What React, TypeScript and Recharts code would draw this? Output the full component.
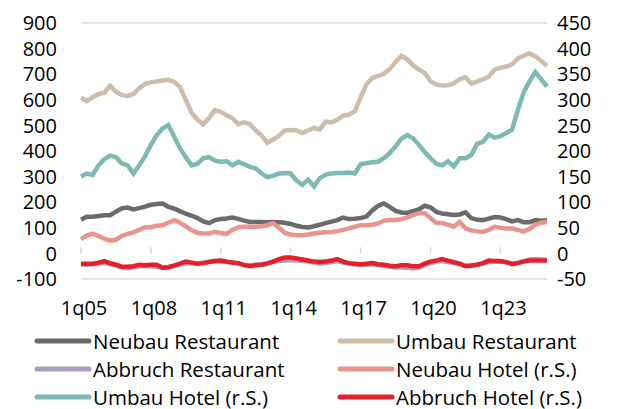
import React from 'react';
import { LineChart, Line, XAxis, YAxis, CartesianGrid, ReferenceLine } from 'recharts';

// quarters 1q05 .. 1q25
const quarters: string[] = [];
for (let y = 5; y <= 25; y++) {
  for (let q = 1; q <= 4; q++) {
    if (y === 25 && q > 1) break;
    quarters.push(`${q}q${String(y).padStart(2, '0')}`);
  }
}

const xTickIdx = [0, 12, 24, 36, 48, 60, 72];
const leftTicks = [-100, 0, 100, 200, 300, 400, 500, 600, 700, 800, 900];
const rightTicks = [-50, 0, 50, 100, 150, 200, 250, 300, 350, 400, 450];

// left axis
const neubauRestaurant = [
  132, 143, 143, 146, 149, 149, 163, 176, 179, 172,
  177, 183, 190, 193, 195, 182, 175, 165, 155, 147,
  138, 125, 118, 130, 134, 136, 140, 135, 128, 123,
  123, 123, 122, 123, 122, 120, 115, 108, 103, 101,
  106, 112, 118, 124, 130, 140, 134, 135, 138, 144,
  168, 186, 195, 182, 166, 160, 158, 165, 172, 186,
  180, 162, 156, 153, 150, 152, 160, 138, 131, 130,
  136, 142, 140, 134, 125, 130, 122, 122, 130, 128,
  130,
];
const umbauRestaurant = [
  608, 595, 610, 622, 628, 655, 632, 618, 615, 622,
  645, 662, 668, 672, 675, 678, 670, 650, 598, 550,
  522, 505, 530, 560, 553, 540, 528, 505, 512, 505,
  480, 460, 432, 445, 460, 480, 482, 480, 470, 480,
  490, 484, 515, 512, 522, 538, 542, 555, 610, 660,
  685, 693, 702, 720, 748, 772, 758, 735, 718, 705,
  672, 660, 656, 657, 664, 680, 688, 663, 672, 680,
  690, 718, 725, 730, 738, 762, 772, 782, 770, 752,
  732,
];
const abbruchRestaurant = [
  -42, -44, -42, -40, -38, -42, -48, -55, -58, -55,
  -50, -48, -50, -52, -56, -54, -48, -42, -38, -38,
  -40, -36, -32, -30, -32, -34, -36, -40, -44, -46,
  -44, -42, -38, -32, -30, -28, -26, -28, -30, -32,
  -36, -40, -38, -34, -30, -36, -40, -42, -45, -44,
  -42, -45, -48, -52, -55, -55, -56, -58, -56, -46,
  -38, -32, -30, -34, -38, -42, -48, -46, -44, -40,
  -34, -33, -32, -35, -40, -36, -30, -24, -22, -24,
  -26,
];
// right axis (r.S.)
const neubauHotel = [
  28, 35, 38.5, 34, 29, 25, 26.5, 34, 38, 41,
  46, 51, 51, 54, 55, 60, 65, 60, 53, 45,
  40, 39, 39, 42, 40, 38, 46, 51, 52, 52,
  52, 53, 55, 59, 50, 40, 37, 35.5, 35.5, 37,
  39, 40.5, 41.5, 42, 43.5, 46, 49, 52, 55, 55,
  56, 58.5, 64, 65, 65, 67, 70, 75, 78.5, 79,
  69, 60, 59.5, 56, 52, 61.5, 49, 45, 43, 42,
  46, 52, 50, 48.5, 48.5, 46, 42.5, 48, 56, 60,
  61.5,
];
const umbauHotel = [
  150, 156, 153, 172, 184, 191, 188, 176, 172, 156,
  172, 190, 212, 231, 244, 251, 228, 205, 188, 172,
  175, 186, 188, 181, 179, 180, 172, 179, 174, 169,
  166, 156, 149, 152, 156, 157, 156, 142, 134, 144,
  131, 147, 154, 156, 157, 157, 158, 156, 174, 176,
  178, 179, 186, 196, 209, 224, 231, 225, 212, 198,
  186, 175, 172, 180, 170, 186, 186, 192, 214, 218,
  232, 226, 229, 235, 242, 280, 315, 336, 354, 340,
  326,
];
const abbruchHotel = [
  -20, -20, -20, -18, -15, -19, -22, -26, -26, -25,
  -22, -23, -22, -22, -28, -27, -24, -20, -16, -18,
  -20, -19, -17, -15, -14, -16, -18, -19, -23, -25,
  -23, -22, -20, -16, -11, -8, -8, -10, -12, -14,
  -16, -17, -16, -14, -11, -16, -19, -20, -21, -20,
  -19, -21, -22, -24, -25, -23, -23, -25, -25, -20,
  -16, -14, -11, -14, -17, -20, -25, -24, -22, -19,
  -14, -15, -15, -17, -21, -19, -16, -14, -14, -14,
  -14,
];

const data = quarters.map((q, i) => ({
  idx: i,
  q,
  neubauRestaurant: neubauRestaurant[i],
  umbauRestaurant: umbauRestaurant[i],
  abbruchRestaurant: abbruchRestaurant[i],
  neubauHotel: neubauHotel[i],
  umbauHotel: umbauHotel[i],
  abbruchHotel: abbruchHotel[i],
}));

const series = [
  { key: 'neubauRestaurant', name: 'Neubau Restaurant', color: '#6b6b6b', axis: 'left' },
  { key: 'umbauRestaurant', name: 'Umbau Restaurant', color: '#cfbcaa', axis: 'left' },
  { key: 'abbruchRestaurant', name: 'Abbruch Restaurant', color: '#ab9dbf', axis: 'left' },
  { key: 'neubauHotel', name: 'Neubau Hotel (r.S.)', color: '#e8958e', axis: 'right' },
  { key: 'umbauHotel', name: 'Umbau Hotel (r.S.)', color: '#7dbab2', axis: 'right' },
  { key: 'abbruchHotel', name: 'Abbruch Hotel (r.S.)', color: '#e5202a', axis: 'right' },
];

const FONT = '"Open Sans", sans-serif';
const tickStyle = { fontSize: 20, fill: '#000', fontFamily: FONT };

export default function App() {
  return (
    <div style={{ position: 'absolute', left: 0, top: 0, width: 618, height: 409, background: '#fff', fontFamily: FONT, overflow: 'hidden' }}>
      <LineChart width={618} height={409} data={data} margin={{ top: 23, right: 0, left: 0, bottom: 90 }}>
        <CartesianGrid vertical={false} stroke="#d9d9d9" strokeWidth={1.5} />
        <XAxis
          dataKey="idx"
          type="number"
          domain={[0, quarters.length - 1]}
          ticks={xTickIdx}
          interval={0}
          tickFormatter={(v) => quarters[v]}
          axisLine={false}
          tickLine={false}
          tickSize={0}
          tickMargin={22}
          height={40}
          tick={{ ...tickStyle, dx: 3 }}
        />
        <YAxis
          yAxisId="left"
          domain={[-100, 900]}
          ticks={leftTicks}
          interval={0}
          axisLine={false}
          tickLine={false}
          tickSize={0}
          tickMargin={24}
          width={81}
          tick={tickStyle}
        />
        <YAxis
          yAxisId="right"
          orientation="right"
          domain={[-50, 450]}
          ticks={rightTicks}
          interval={0}
          axisLine={false}
          tickLine={false}
          tickSize={0}
          tickMargin={10}
          width={71}
          tick={{ ...tickStyle, textAnchor: 'start' }}
        />
        {xTickIdx.map((t) => (
          <ReferenceLine
            key={t}
            yAxisId="left"
            segment={[{ x: t, y: 0 }, { x: t, y: 24 }]}
            stroke="#d9d9d9"
            strokeWidth={1.5}
          />
        ))}
        {series.map((s) => (
          <Line
            key={s.key}
            yAxisId={s.axis}
            dataKey={s.key}
            name={s.name}
            stroke={s.color}
            strokeWidth={4.5}
            dot={false}
            type="linear"
            isAnimationActive={false}
          />
        ))}
      </LineChart>
      <div style={{ position: 'absolute', left: 34, top: 327, width: 584 }}>
        {[0, 1, 2].map((row) => (
          <div key={row} style={{ display: 'flex', height: 28, alignItems: 'center' }}>
            {[0, 1].map((col) => {
              const s = series[row * 2 + col];
              return (
                <div key={col} style={{ display: 'flex', alignItems: 'center', width: col === 0 ? 303 : 260 }}>
                  <svg width={58} height={10}>
                    <line x1={3} y1={5} x2={55} y2={5} stroke={s.color} strokeWidth={5} strokeLinecap="round" />
                  </svg>
                  <span style={{ fontSize: 20.5, lineHeight: '20px', color: '#000', marginLeft: 1, whiteSpace: 'nowrap' }}>{s.name}</span>
                </div>
              );
            })}
          </div>
        ))}
      </div>
    </div>
  );
}
